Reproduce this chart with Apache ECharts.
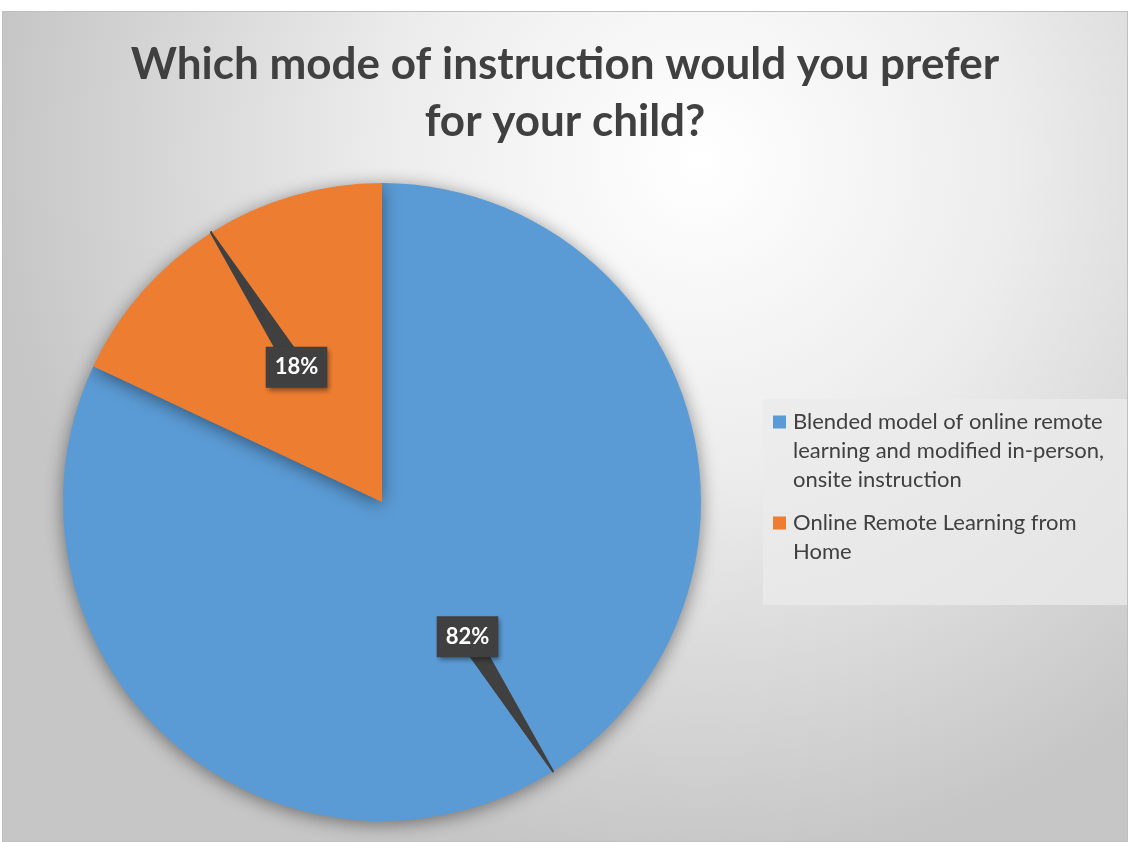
<!DOCTYPE html>
<html>
<head>
<meta charset="utf-8">
<script src="https://cdn.jsdelivr.net/npm/echarts@6/dist/echarts.min.js"></script>
<style>
  html, body { margin: 0; padding: 0; background: #ffffff; }
  #chart {
    position: absolute;
    left: 2px;
    top: 11px;
    width: 1124px;
    height: 829px;
    border: 1px solid #bfbfbf;
  }
</style>
</head>
<body>
<div id="chart"></div>
<script>
const titleText = 'Which mode of instruction would you prefer\nfor your child?'
const categories = [
  'Blended model of online remote learning and modified in-person, onsite instruction',
  'Online Remote Learning from Home'
]
// legend text as wrapped in the picture
const legendLines = [
  ['Blended model of online remote', 'learning and modified in-person,', 'onsite instruction'],
  ['Online Remote Learning from', 'Home']
]
const shares = [82, 18]
const colors = ['#5B9BD5', '#ED7D31']

const chart = echarts.init(document.getElementById('chart'))
const center = [379, 490]
const pieRadius = 319

// callout: fan of strokes from the pie edge to the label, looks like a wedge
function calloutLayout(params) {
  const p = params.labelLinePoints
  if (!p) return {}
  const edge = p[0]
  const x = center[0] + (edge[0] - center[0]) * 0.5
  const y = center[1] + (edge[1] - center[1]) * 0.5
  const len = Math.sqrt((edge[0] - x) * (edge[0] - x) + (edge[1] - y) * (edge[1] - y))
  const nx = -(edge[1] - y) / len
  const ny = (edge[0] - x) / len
  const pts = [edge]
  for (let k = -9; k <= 9; k += 1.5) {
    pts.push([x + nx * k, y + ny * k])
    pts.push(edge)
  }
  return {
    x: x,
    y: y,
    align: 'center',
    verticalAlign: 'middle',
    labelLinePoints: pts
  }
}

const option = {
  backgroundColor: {
    type: 'radial',
    x: 0.62,
    y: 0.18,
    r: 0.85,
    colorStops: [
      { offset: 0, color: '#ffffff' },
      { offset: 0.45, color: '#ececec' },
      { offset: 1, color: '#c6c6c6' }
    ]
  },
  title: {
    text: titleText,
    left: 'center',
    top: 19,
    textStyle: {
      fontFamily: 'Lato',
      fontSize: 44,
      fontWeight: 'bold',
      color: '#404040',
      lineHeight: 57
    }
  },
  legend: {
    orient: 'vertical',
    left: 760,
    top: 387,
    padding: [12, 12, 42, 5],
    itemGap: 21,
    itemWidth: 0,
    itemHeight: 14,
    icon: 'none',
    backgroundColor: 'rgba(235,235,235,0.75)',
    selectedMode: false,
    formatter: function (name) {
      const i = categories.indexOf(name)
      return legendLines[i].map(function (line, k) {
        return (k === 0 ? '{sq' + i + '|}' : '{sp|}') + '{t|' + line + '}'
      }).join('\n')
    },
    textStyle: {
      rich: {
        sq0: { width: 13, height: 13, backgroundColor: colors[0], verticalAlign: 'middle' },
        sq1: { width: 13, height: 13, backgroundColor: colors[1], verticalAlign: 'middle' },
        sp: { width: 13, height: 13 },
        t: {
          fontFamily: 'Lato',
          fontSize: 22,
          color: '#404040',
          lineHeight: 29,
          width: 325,
          padding: [0, 0, 0, 7],
          verticalAlign: 'middle'
        }
      }
    }
  },
  series: [
    {
      type: 'pie',
      z: 2,
      center: center,
      radius: pieRadius,
      startAngle: 90,
      clockwise: true,
      silent: true,
      label: { show: false },
      labelLine: { show: false },
      data: categories.map(function (c, i) {
        return { name: c, value: shares[i], itemStyle: { color: colors[i] } }
      }),
      itemStyle: {
        shadowBlur: 18,
        shadowColor: 'rgba(0,0,0,0.45)',
        shadowOffsetX: 0,
        shadowOffsetY: 3
      }
    },
    {
      // same slices, transparent, only to carry the data callouts above the pie
      type: 'pie',
      z: 5,
      center: center,
      radius: pieRadius,
      startAngle: 90,
      clockwise: true,
      silent: true,
      avoidLabelOverlap: false,
      data: categories.map(function (c, i) {
        return { name: c, value: shares[i], itemStyle: { color: 'rgba(0,0,0,0)' } }
      }),
      label: {
        show: true,
        position: 'outside',
        formatter: '{c}%',
        fontFamily: 'Lato',
        fontSize: 22,
        fontWeight: 'bold',
        color: '#ffffff',
        backgroundColor: '#404040',
        padding: [10, 9, 9, 9],
        shadowColor: 'rgba(0,0,0,0.45)',
        shadowBlur: 5,
        shadowOffsetX: 2,
        shadowOffsetY: 3
      },
      labelLine: {
        show: true,
        length: 10,
        length2: 10,
        lineStyle: {
          color: '#404040',
          width: 2,
          join: 'round'
        }
      },
      labelLayout: calloutLayout
    }
  ]
}

chart.setOption(option)

window.addEventListener('resize', () => {
  chart.resize()
})
</script>
</body>
</html>
